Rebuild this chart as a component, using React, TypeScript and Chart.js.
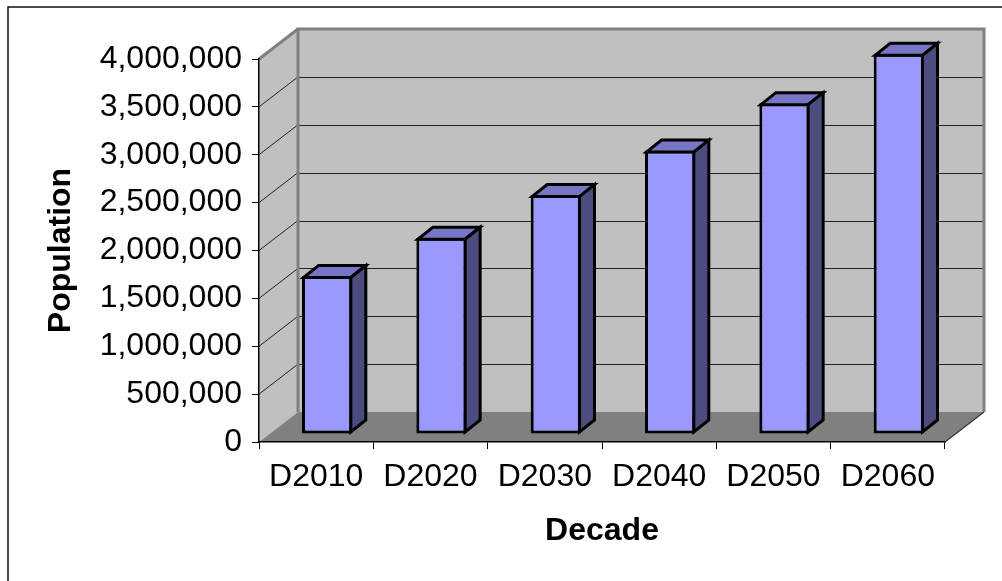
import React, { useEffect, useRef } from 'react';
import { Chart, registerables } from 'chart.js';

Chart.register(...registerables);

// ---- data ----
const categories = ['D2010', 'D2020', 'D2030', 'D2040', 'D2050', 'D2060'];
const population = [1650000, 2050000, 2495000, 2960000, 3455000, 3970000];
const yMin = 0;
const yMax = 4000000;
const yStep = 500000;
const xTitle = 'Decade';
const yTitle = 'Population';

// ---- styles ----
const FONT = "'Liberation Sans', Arial, sans-serif";
const WALL = '#C0C0C0';
const FLOOR = '#808080';
const EDGE = '#808080';
const FRONT = '#9999FF';
const TOP = '#7676C4';
const SIDE = '#4C4C80';
const DEPTH = { dx: 39, dy: -30 };
const SHIFT = { dx: 11, dy: -8 };
const BAR_DEPTH = { dx: 15, dy: -12 };
const BW = 3;

function poly(ctx: CanvasRenderingContext2D, pts: number[][]) {
  ctx.beginPath();
  ctx.moveTo(pts[0][0], pts[0][1]);
  for (let i = 1; i < pts.length; i++) ctx.lineTo(pts[i][0], pts[i][1]);
  ctx.closePath();
}

const threeD = {
  id: 'threeD',
  beforeDraw(chart: any) {
    const { ctx } = chart;
    const xs = chart.scales.x;
    const ys = chart.scales.y;
    const L = xs.left;
    const R = xs.right;
    const B = ys.getPixelForValue(yMin);
    const T = ys.getPixelForValue(yMax);
    const { dx, dy } = DEPTH;
    ctx.save();
    ctx.fillStyle = '#ffffff';
    ctx.fillRect(0, 0, chart.width, chart.height);
    // outer frame
    ctx.strokeStyle = '#111';
    ctx.lineWidth = 1.5;
    ctx.beginPath();
    ctx.moveTo(8, chart.height + 2);
    ctx.lineTo(8, 7);
    ctx.lineTo(chart.width + 2, 7);
    ctx.stroke();
    // back wall
    ctx.fillStyle = WALL;
    ctx.fillRect(L + dx, T + dy, R - L, B - T);
    // left wall
    poly(ctx, [[L, B], [L, T], [L + dx, T + dy], [L + dx, B + dy]]);
    ctx.fill();
    // floor
    ctx.fillStyle = FLOOR;
    poly(ctx, [[L, B], [R, B], [R + dx, B + dy], [L + dx, B + dy]]);
    ctx.fill();
    // gridlines
    ctx.strokeStyle = '#222';
    ctx.lineWidth = 1;
    const ticks = ys.ticks;
    for (let i = 1; i < ticks.length - 1; i++) {
      const p = ys.getPixelForValue(ticks[i].value);
      ctx.beginPath();
      ctx.moveTo(L + dx, Math.round(p + dy) + 0.5);
      ctx.lineTo(R + dx, Math.round(p + dy) + 0.5);
      ctx.stroke();
      ctx.beginPath();
      ctx.moveTo(L, p);
      ctx.lineTo(L + dx, p + dy);
      ctx.stroke();
    }
    // wall edges
    ctx.strokeStyle = EDGE;
    ctx.lineWidth = 3;
    ctx.lineJoin = 'miter';
    ctx.beginPath();
    ctx.moveTo(L + dx, B + dy);
    ctx.lineTo(L + dx, T + dy);
    ctx.lineTo(R + dx, T + dy);
    ctx.lineTo(R + dx, B + dy);
    ctx.stroke();
    ctx.beginPath();
    ctx.moveTo(L, T);
    ctx.lineTo(L + dx, T + dy);
    ctx.stroke();
    // floor right edge
    ctx.strokeStyle = '#333';
    ctx.lineWidth = 1.2;
    ctx.beginPath();
    ctx.moveTo(R, B);
    ctx.lineTo(R + dx, B + dy);
    ctx.stroke();
    ctx.restore();
  },
  beforeDatasetDraw(chart: any) {
    chart.ctx.save();
    chart.ctx.translate(SHIFT.dx, SHIFT.dy);
  },
  afterDatasetDraw(chart: any, args: any) {
    const ctx = chart.ctx;
    const h = BW / 2;
    const { dx, dy } = BAR_DEPTH;
    ctx.lineWidth = BW;
    ctx.lineJoin = 'miter';
    ctx.strokeStyle = '#000';
    args.meta.data.forEach((el: any) => {
      const { x, y, base, width } = el.getProps(['x', 'y', 'base', 'width'], true);
      const l = x - width / 2 + h;
      const r = x + width / 2 - h;
      const t = y + h;
      const b = base - h;
      ctx.fillStyle = TOP;
      poly(ctx, [[l, t], [r, t], [r + dx, t + dy], [l + dx, t + dy]]);
      ctx.fill();
      ctx.stroke();
      ctx.fillStyle = SIDE;
      poly(ctx, [[r, t], [r + dx, t + dy], [r + dx, b + dy], [r, b]]);
      ctx.fill();
      ctx.stroke();
    });
    ctx.restore();
  },
};

export default function App() {
  const ref = useRef<HTMLCanvasElement | null>(null);
  useEffect(() => {
    if (!ref.current) return;
    const chart = new Chart(ref.current, {
      type: 'bar',
      data: {
        labels: categories,
        datasets: [
          {
            label: yTitle,
            data: population,
            backgroundColor: FRONT,
            borderColor: '#000',
            borderWidth: BW,
            borderSkipped: false,
            categoryPercentage: 1,
            barPercentage: 0.44,
            clip: false as any,
          },
        ],
      },
      options: {
        responsive: false,
        animation: false,
        devicePixelRatio: 1,
        layout: { padding: { top: 59, right: 57, left: 0, bottom: 0 } },
        plugins: { legend: { display: false }, tooltip: { enabled: false } },
        scales: {
          x: {
            offset: true,
            grid: { display: true, drawOnChartArea: false, offset: true, tickLength: 7, color: '#000', lineWidth: 1 },
            border: { display: true, color: '#000', width: 1.5 },
            ticks: { color: '#000', font: { family: FONT, size: 32 }, padding: 9, maxRotation: 0, autoSkip: false },
            title: { display: true, text: xTitle, color: '#000', font: { family: FONT, size: 32, weight: 'bold' }, padding: { top: 0, bottom: 31 } },
            afterFit: (s: any) => { s.height = 139; },
          },
          y: {
            min: yMin,
            max: yMax,
            grid: { display: true, drawOnChartArea: false, tickLength: 7, color: '#000', lineWidth: 1 },
            border: { display: true, color: '#000', width: 1.5 },
            ticks: {
              stepSize: yStep,
              color: '#000',
              font: { family: FONT, size: 32 },
              padding: 10,
              callback: (v: any) => Number(v).toLocaleString('en-US'),
            },
            title: { display: true, text: yTitle, color: '#000', font: { family: FONT, size: 32, weight: 'bold' }, padding: { top: 42, bottom: 0 } },
            afterFit: (s: any) => { s.width = 259; },
          },
        },
      },
      plugins: [threeD],
    });
    return () => chart.destroy();
  }, []);
  return (
    <div style={{ position: 'fixed', left: 0, top: 0, width: 1002, height: 581 }}>
      <canvas ref={ref} width={1002} height={581} style={{ display: 'block', width: 1002, height: 581 }} />
    </div>
  );
}
